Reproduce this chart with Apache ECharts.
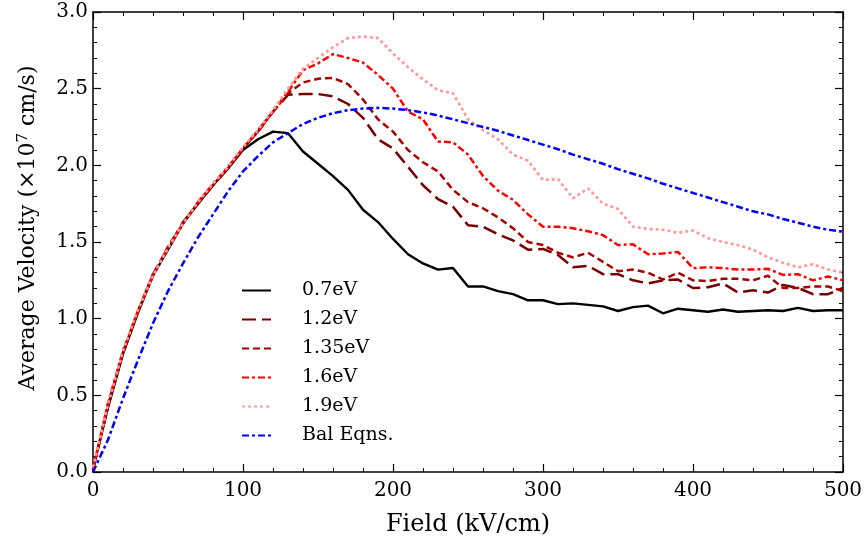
<!DOCTYPE html>
<html>
<head>
<meta charset="utf-8">
<script src="https://cdn.jsdelivr.net/npm/echarts@6/dist/echarts.min.js"></script>
<style>html,body{margin:0;padding:0;background:#fff}#c{width:867px;height:551px}</style>
</head>
<body>
<div id="c"></div>
<script>
var field = [0,10,20,30,40,50,60,70,80,90,100,110,120,130,140,150,160,170,180,190,200,210,220,230,240,250,260,270,280,290,300,310,320,330,340,350,360,370,380,390,400,410,420,430,440,450,460,470,480,490,500];

var v07 = [0.02,0.42,0.77,1.04,1.28,1.45,1.62,1.75,1.87,1.98,2.10,2.17,2.22,2.21,2.09,2.01,1.93,1.84,1.71,1.63,1.52,1.42,1.36,1.32,1.33,1.21,1.21,1.18,1.16,1.12,1.12,1.095,1.10,1.09,1.08,1.05,1.075,1.085,1.035,1.065,1.055,1.045,1.06,1.045,1.05,1.055,1.05,1.07,1.05,1.055,1.055];

var v12 = [0.02,0.43,0.78,1.05,1.29,1.46,1.63,1.75,1.87,1.98,2.11,2.22,2.35,2.46,2.465,2.465,2.45,2.40,2.31,2.17,2.11,1.99,1.87,1.78,1.73,1.61,1.60,1.55,1.51,1.45,1.455,1.415,1.335,1.345,1.29,1.29,1.25,1.23,1.25,1.255,1.20,1.205,1.23,1.17,1.185,1.17,1.22,1.20,1.16,1.16,1.20];

var v135 = [0.01,0.44,0.78,1.05,1.28,1.47,1.62,1.76,1.87,1.98,2.11,2.22,2.35,2.47,2.54,2.565,2.57,2.53,2.43,2.30,2.22,2.10,2.02,1.96,1.84,1.76,1.72,1.66,1.59,1.50,1.48,1.43,1.40,1.43,1.37,1.31,1.32,1.30,1.255,1.30,1.25,1.245,1.26,1.26,1.25,1.28,1.20,1.20,1.21,1.21,1.18];

var v16 = [0.02,0.45,0.79,1.05,1.29,1.46,1.62,1.76,1.88,1.99,2.11,2.23,2.35,2.48,2.62,2.665,2.725,2.70,2.67,2.59,2.50,2.35,2.30,2.155,2.15,2.07,1.93,1.835,1.775,1.68,1.60,1.60,1.59,1.57,1.545,1.48,1.485,1.42,1.425,1.435,1.33,1.335,1.33,1.32,1.32,1.325,1.285,1.29,1.25,1.275,1.25];

var v19 = [0.03,0.44,0.79,1.06,1.28,1.46,1.62,1.76,1.88,1.99,2.12,2.23,2.36,2.50,2.63,2.70,2.77,2.83,2.84,2.83,2.73,2.64,2.56,2.49,2.47,2.30,2.23,2.17,2.07,2.03,1.905,1.91,1.785,1.85,1.75,1.715,1.60,1.585,1.58,1.56,1.575,1.525,1.50,1.48,1.45,1.40,1.365,1.335,1.355,1.32,1.30];

var vBal = [0,0.21,0.48,0.73,0.97,1.18,1.36,1.53,1.68,1.83,1.96,2.06,2.15,2.21,2.27,2.31,2.34,2.36,2.37,2.375,2.37,2.36,2.345,2.325,2.30,2.275,2.25,2.225,2.195,2.165,2.135,2.105,2.07,2.04,2.01,1.975,1.945,1.915,1.88,1.85,1.82,1.79,1.76,1.73,1.70,1.68,1.65,1.625,1.60,1.58,1.567];

var seriesNames = ['0.7eV','1.2eV','1.35eV','1.6eV','1.9eV','Bal Eqns.'];
var xTicks = [0,100,200,300,400,500];
var yTicks = [0.0,0.5,1.0,1.5,2.0,2.5,3.0];

function pairs(ys){ return field.map(function(x,i){ return [x, ys[i]]; }); }

var FONT = 'DejaVu Serif';
var styles = [
  {color:'#000000', type:'solid', width:2.4},
  {color:'#760000', type:[14,6], width:2.5},
  {color:'#a80000', type:[7,4], width:2.5},
  {color:'#ff0000', type:[7,3,3,3], width:2.5},
  {color:'#ff9a9a', type:[3,3], width:2.7},
  {color:'#0000ff', type:[7,3,3,3], width:2.5}
];
var datas = [v07, v12, v135, v16, v19, vBal];

var series = seriesNames.map(function(n,i){
  return {
    name: n, type: 'line', data: pairs(datas[i]),
    symbol: 'none', showSymbol: false, smooth: false,
    xAxisIndex: 0, yAxisIndex: 0,
    lineStyle: {color: styles[i].color, type: styles[i].type, width: styles[i].width},
    itemStyle: {color: styles[i].color},
    animation: false
  };
});

function axisCommon(show){
  return {
    axisLine: {show: true, onZero: false, lineStyle: {color: '#000', width: 1.5}},
    axisTick: {show: true, inside: true, length: 8, lineStyle: {color: '#000', width: 1.2}},
    minorTick: {show: true, splitNumber: 5, length: 4, lineStyle: {color: '#000', width: 1}},
    splitLine: {show: false},
    axisLabel: {show: show, color: '#000', fontFamily: FONT, fontSize: 20}
  };
}

var chart = echarts.init(document.getElementById('c'), null, {renderer: 'canvas'});
var xa = Object.assign({type:'value', min:0, max:500, interval:100, position:'bottom',
  name:'Field (kV/cm)', nameLocation:'middle', nameGap:41,
  nameTextStyle:{fontFamily:FONT, fontSize:24, color:'#000'}}, axisCommon(true));
xa.axisLabel.margin = 9;
var xb = Object.assign({type:'value', min:0, max:500, interval:100, position:'top'}, axisCommon(false));
var ya = Object.assign({type:'value', min:0, max:3, interval:0.5, position:'left',
  name:'{a|Average Velocity (×10}{s|7}{a| cm/s)}', nameLocation:'middle', nameGap:52,
  nameTextStyle:{fontFamily:FONT, fontSize:22, color:'#000', padding:[0,0,0,28],
    rich:{a:{fontFamily:FONT, fontSize:22, color:'#000'}, s:{fontFamily:FONT, fontSize:15, color:'#000', verticalAlign:'top', padding:[0,0,10,0]}}}}, axisCommon(true));
ya.axisLabel.formatter = function(v){ return v.toFixed(1); };
ya.axisLabel.margin = 5;
var yb = Object.assign({type:'value', min:0, max:3, interval:0.5, position:'right'}, axisCommon(false));

chart.setOption({
  animation: false,
  backgroundColor: '#fff',
  grid: {left: 93, right: 24, top: 12, bottom: 79, containLabel: false},
  xAxis: [xa, xb],
  yAxis: [ya, yb],
  legend: {
    data: seriesNames, orient: 'vertical', left: 241, top: 281, padding: 0,
    itemWidth: 29, itemHeight: 14, itemGap: 10,
    itemStyle: {opacity: 0},
    textStyle: {fontFamily: FONT, fontSize: 19, color: '#000', padding: [0,0,0,26]}
  },
  series: series
});
</script>
</body>
</html>
